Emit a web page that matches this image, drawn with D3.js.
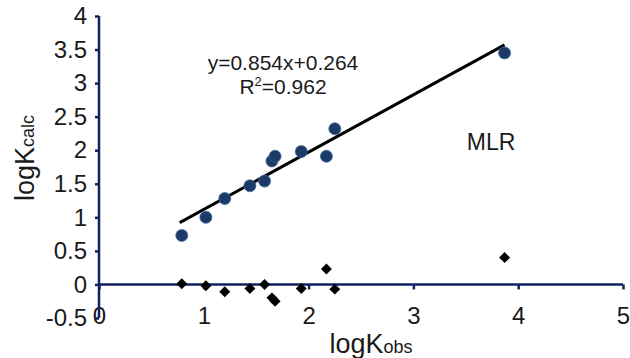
<!DOCTYPE html>
<html>
<head>
<meta charset="utf-8">
<script src="https://cdn.jsdelivr.net/npm/d3@7"></script>
<style>
  body { margin: 0; background: #fff; }
  text { font-family: Arial, "Liberation Sans", sans-serif; fill: #1a1a1a; }
</style>
</head>
<body>
<div id="vis"></div>
<script>
// observed vs calculated logK
let logKobs = [0.79, 1.02, 1.20, 1.44, 1.58, 1.65, 1.68, 1.93, 2.17, 2.25, 3.87];
let logKcalc = [0.73, 1.00, 1.28, 1.47, 1.54, 1.84, 1.91, 1.98, 1.91, 2.32, 3.45];
let residuals = [0.01, -0.02, -0.11, -0.06, 0.00, -0.20, -0.25, -0.06, 0.23, -0.07, 0.40];

let xTicks = [0, 1, 2, 3, 4, 5];
let yTicks = [-0.5, 0, 0.5, 1, 1.5, 2, 2.5, 3, 3.5, 4];

let slope = 0.854, intercept = 0.264;

let width = 630, height = 358;
let navy = '#0f2360';
let font = 'Arial, "Liberation Sans", sans-serif';

let svg = d3.select('#vis')
    .append('svg')
    .attr('width', width)
    .attr('height', height);

let xScale = d3.scaleLinear()
    .domain([0, 5])
    .range([99, 623]);

let yScale = d3.scaleLinear()
    .domain([-0.5, 4])
    .range([318, 16]);

// x axis sits on y = 0
let xAxis = d3.axisBottom(xScale)
    .tickValues(xTicks)
    .tickSize(5)
    .tickPadding(18)
    .tickFormat(d3.format('d'));

let xGuide = svg.append('g')
    .attr('transform', 'translate(0,' + yScale(0) + ')')
    .call(xAxis);

xGuide.select('.domain').attr('stroke', navy).attr('stroke-width', 2.5).attr('d', 'M' + xScale(0) + ',0H' + xScale(5));
xGuide.selectAll('.tick line').attr('stroke', navy).attr('stroke-width', 2.5);
xGuide.selectAll('.tick text')
    .style('font-size', '24px')
    .style('font-family', font)
    .attr('fill', '#1a1a1a');

let yAxis = d3.axisLeft(yScale)
    .tickValues(yTicks)
    .tickSize(4)
    .tickPadding(8)
    .tickFormat(d => d);

let yGuide = svg.append('g')
    .attr('transform', 'translate(' + xScale(0) + ',0)')
    .call(yAxis);

yGuide.select('.domain').attr('stroke', navy).attr('stroke-width', 2.5).attr('d', 'M0,' + yScale(-0.5) + 'V' + yScale(4));
yGuide.selectAll('.tick line').attr('stroke', navy).attr('stroke-width', 2.5);
yGuide.selectAll('.tick text')
    .style('font-size', '24px')
    .style('font-family', font)
    .attr('fill', '#1a1a1a');

// regression line
let xMin = d3.min(logKobs), xMax = d3.max(logKobs);
svg.append('line')
    .attr('x1', xScale(xMin - 0.02))
    .attr('y1', yScale(slope * (xMin - 0.02) + intercept))
    .attr('x2', xScale(xMax))
    .attr('y2', yScale(slope * xMax + intercept))
    .attr('stroke', '#000')
    .attr('stroke-width', 3);

let points = logKobs.map((x, i) => ({x: x, y: logKcalc[i], r: residuals[i]}));

svg.selectAll('circle.calc')
    .data(points)
    .enter()
    .append('circle')
    .attr('class', 'calc')
    .attr('cx', d => xScale(d.x))
    .attr('cy', d => yScale(d.y))
    .attr('r', 6)
    .attr('fill', '#1b3a66')
    .attr('stroke', '#3d6aa0')
    .attr('stroke-width', 0.8);

let diamond = d3.symbol().type(d3.symbolSquare).size(60);

svg.selectAll('path.resid')
    .data(points)
    .enter()
    .append('path')
    .attr('class', 'resid')
    .attr('d', diamond)
    .attr('fill', '#000')
    .attr('transform', d => 'translate(' + xScale(d.x) + ',' + yScale(d.r) + ') rotate(45)');

// labels
svg.append('text')
    .attr('x', 283)
    .attr('y', 70)
    .attr('text-anchor', 'middle')
    .style('font-size', '21px')
    .text('y=0.854x+0.264');

let r2 = svg.append('text')
    .attr('x', 283)
    .attr('y', 94)
    .attr('text-anchor', 'middle')
    .style('font-size', '21px');
r2.append('tspan').text('R');
r2.append('tspan').attr('dy', -8).style('font-size', '13px').text('2');
r2.append('tspan').attr('dy', 8).text('=0.962');

svg.append('text')
    .attr('x', 491)
    .attr('y', 150)
    .attr('text-anchor', 'middle')
    .style('font-size', '23px')
    .text('MLR');

let xTitle = svg.append('text')
    .attr('x', 371)
    .attr('y', 353)
    .attr('text-anchor', 'middle')
    .style('font-size', '27px');
xTitle.append('tspan').text('logK');
xTitle.append('tspan').style('font-size', '18px').text('obs');

let yTitle = svg.append('text')
    .attr('transform', 'translate(34,158) rotate(-90)')
    .attr('text-anchor', 'middle')
    .style('font-size', '27px');
yTitle.append('tspan').text('logK');
yTitle.append('tspan').style('font-size', '18px').text('calc');
</script>
</body>
</html>
